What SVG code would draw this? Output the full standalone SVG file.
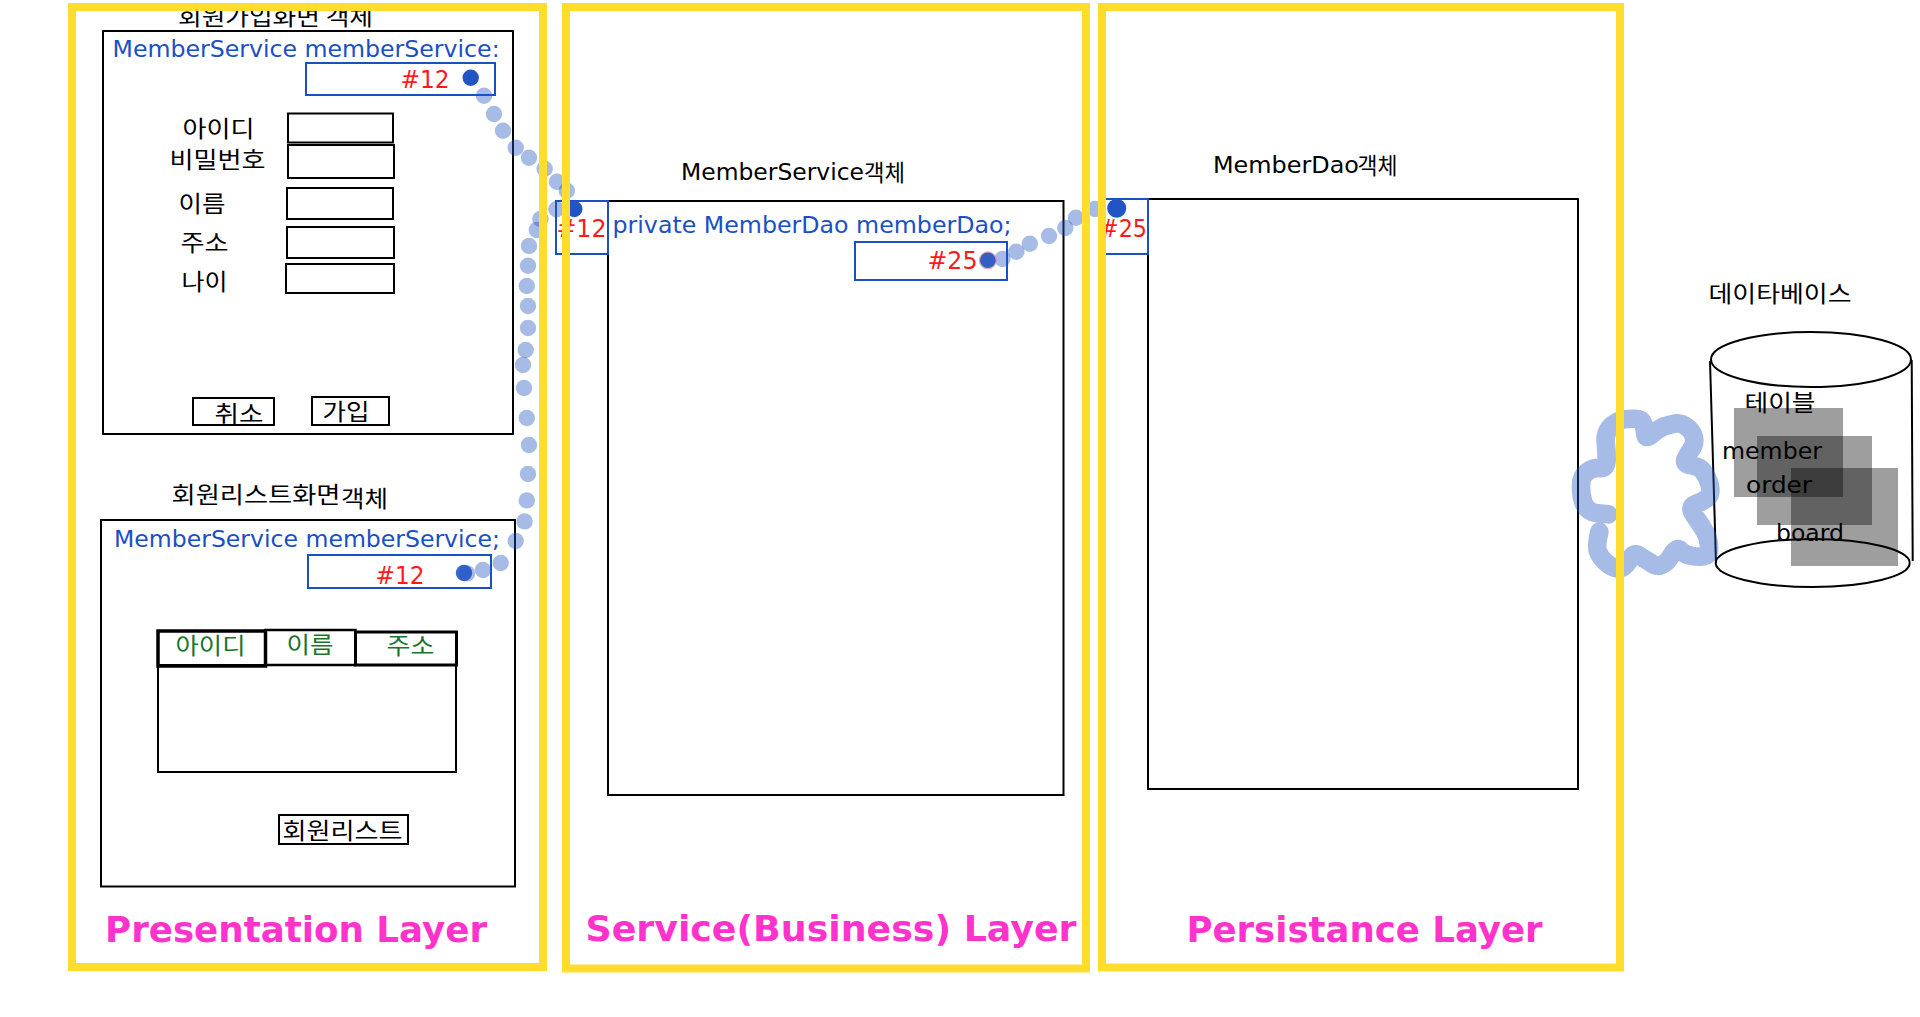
<svg xmlns="http://www.w3.org/2000/svg" width="1920" height="1017" viewBox="0 0 1920 1017">
<style>
text{font-family:"DejaVu Sans","Noto Sans CJK KR",sans-serif;fill:#000;font-size:23px}
.k{font-family:"Noto Sans CJK KR",sans-serif}
.b{fill:#1a50c4}.r{fill:#ff1a1a;font-size:24px}.g{fill:#17762c}
.p{fill:#ff33cc;font-weight:bold;font-size:35px}
.box{fill:none;stroke:#000;stroke-width:2}
.blue{fill:none;stroke:#1a50c4;stroke-width:2}
.frame{fill:none;stroke:#ffdd2e;stroke-width:8}
.dot{fill:#2255c4;opacity:.4}
.hot{fill:#2255c4}
.sq{fill:#000;opacity:.38}
</style>
<rect width="1920" height="1017" fill="#fff"/>
<g id="signup-form">
<text class="k" x="178" y="25" textLength="195" lengthAdjust="spacingAndGlyphs">회원가입화면 객체</text>
<rect class="box" x="103" y="31" width="410" height="403"/>
<text class="b" x="112.6" y="56.7" textLength="387" lengthAdjust="spacingAndGlyphs">MemberService memberService:</text>
<rect class="blue" x="306" y="63" width="189" height="32"/>
<text class="r" x="400.5" y="87.7" textLength="49" lengthAdjust="spacingAndGlyphs">#12</text>
<text class="k" x="182.5" y="137" textLength="72" lengthAdjust="spacingAndGlyphs">아이디</text>
<text class="k" x="169.5" y="168" textLength="96" lengthAdjust="spacingAndGlyphs">비밀번호</text>
<text class="k" x="178.5" y="212" textLength="47" lengthAdjust="spacingAndGlyphs">이름</text>
<text class="k" x="180.5" y="251" textLength="48" lengthAdjust="spacingAndGlyphs">주소</text>
<text class="k" x="181.5" y="290" textLength="46" lengthAdjust="spacingAndGlyphs">나이</text>
<rect class="box" x="288" y="113.5" width="105" height="29"/>
<rect class="box" x="288" y="145" width="106" height="33"/>
<rect class="box" x="287" y="188" width="106" height="31"/>
<rect class="box" x="287" y="227" width="107" height="31"/>
<rect class="box" x="286" y="264" width="108" height="29"/>
<rect class="box" x="193" y="398" width="81" height="27"/>
<text class="k" x="214.5" y="422" textLength="49" lengthAdjust="spacingAndGlyphs">취소</text>
<rect class="box" x="312" y="397" width="77" height="28"/>
<text class="k" x="322.5" y="420" textLength="47" lengthAdjust="spacingAndGlyphs">가입</text>
</g>
<g id="list-view">
<text class="k" x="171.5" y="503" textLength="169" lengthAdjust="spacingAndGlyphs">회원리스트화면</text>
<text class="k" x="341" y="506.5" textLength="47" lengthAdjust="spacingAndGlyphs" font-size="21">객체</text>
<rect class="box" x="101" y="520" width="414" height="366.5"/>
<text class="b" x="114" y="546.5" textLength="386" lengthAdjust="spacingAndGlyphs">MemberService memberService;</text>
<rect class="blue" x="308" y="555" width="183" height="33"/>
<text class="r" x="375.5" y="584" textLength="49" lengthAdjust="spacingAndGlyphs">#12</text>
<rect class="box" x="158" y="665" width="298" height="107"/>
<rect x="265.5" y="630" width="90" height="35" fill="none" stroke="#000" stroke-width="2.5"/>
<rect x="355.5" y="632" width="101" height="33" fill="none" stroke="#000" stroke-width="3"/>
<rect x="158" y="631" width="107.5" height="35" fill="none" stroke="#000" stroke-width="3.5"/>
<text class="k g" x="175.5" y="654" textLength="70" lengthAdjust="spacingAndGlyphs">아이디</text>
<text class="k g" x="286.5" y="653" textLength="47" lengthAdjust="spacingAndGlyphs">이름</text>
<text class="k g" x="386.5" y="654" textLength="48" lengthAdjust="spacingAndGlyphs">주소</text>
<rect class="box" x="279" y="815" width="129" height="29"/>
<text class="k" x="282.5" y="839" textLength="120" lengthAdjust="spacingAndGlyphs">회원리스트</text>
</g>
<g id="service-object">
<text x="681" y="180" textLength="183" lengthAdjust="spacingAndGlyphs">MemberService</text>
<text class="k" x="864" y="180.5" textLength="41" lengthAdjust="spacingAndGlyphs" font-size="19">객체</text>
<rect class="box" x="608" y="201" width="455.5" height="594"/>
<rect class="blue" x="556" y="201" width="52" height="53"/>
<text class="r" x="556.5" y="237.3" textLength="50" lengthAdjust="spacingAndGlyphs">#12</text>
<text class="b" x="612.5" y="232.7" textLength="399" lengthAdjust="spacingAndGlyphs">private MemberDao memberDao;</text>
<rect class="blue" x="855" y="242" width="152" height="38"/>
<text class="r" x="927.5" y="269.3" textLength="50" lengthAdjust="spacingAndGlyphs">#25</text>
</g>
<g id="dao-object">
<text x="1213" y="173.3" textLength="146" lengthAdjust="spacingAndGlyphs">MemberDao</text>
<text class="k" x="1357.5" y="174" textLength="40" lengthAdjust="spacingAndGlyphs" font-size="19">객체</text>
<rect class="box" x="1148" y="199" width="430" height="590"/>
<rect class="blue" x="1100" y="199" width="48" height="55"/>
<text class="r" x="1100" y="236.7" textLength="47" lengthAdjust="spacingAndGlyphs">#25</text>
</g>
<g id="database">
<text class="k" x="1708.5" y="302" textLength="143" lengthAdjust="spacingAndGlyphs">데이타베이스</text>
<rect class="sq" x="1734" y="408" width="109" height="89"/>
<rect class="sq" x="1757" y="436" width="115" height="89"/>
<rect class="sq" x="1791" y="468" width="107" height="98"/>
<ellipse class="box" cx="1811" cy="359.5" rx="100" ry="27.5"/>
<path class="box" d="M1710 361L1716 563M1911.7 360L1912.7 561"/>
<ellipse class="box" cx="1812.7" cy="563" rx="97" ry="24"/>
<text class="k" x="1744.5" y="411" textLength="71" lengthAdjust="spacingAndGlyphs">테이블</text>
<text x="1722" y="459" textLength="100" lengthAdjust="spacingAndGlyphs">member</text>
<text x="1746" y="492.7" textLength="66" lengthAdjust="spacingAndGlyphs">order</text>
<text x="1776" y="540.7" textLength="68" lengthAdjust="spacingAndGlyphs">board</text>
</g>
<g id="connectors">
<path transform="translate(1560 270) scale(.3333)" fill="none" stroke="#2255c4" stroke-opacity=".4" stroke-width="56" stroke-linecap="round" stroke-linejoin="round" d="M118 785Q108 830 114 845Q120 860 135 875Q150 890 170 895Q190 899 205 875Q220 845 235 855Q250 865 270 877Q290 893 305 885Q320 880 335 855Q350 830 362 842Q375 855 397 858Q420 862 435 858Q450 855 447 827Q445 800 432 780Q420 760 402 735Q385 710 407 702Q430 695 444 682Q455 670 449 645Q442 620 430 605Q420 590 395 586Q370 583 377 566Q385 550 396 535Q405 520 402 502Q398 485 382 472Q365 458 347 460Q330 463 310 470Q290 480 274 494Q258 508 256 494Q255 480 252 470Q248 449 232 447Q215 445 192 448Q165 455 150 472Q135 490 137 515Q140 540 140 568Q140 597 120 594Q100 592 81 606Q62 620 63 650Q63 680 72 702Q84 727 112 730L145 733"/>
<g>
<circle class="dot" cx="484" cy="95.7" r="8.2"/><circle class="dot" cx="494" cy="114" r="8.2"/><circle class="dot" cx="503" cy="130.7" r="8.2"/><circle class="dot" cx="515.7" cy="147.7" r="8.2"/><circle class="dot" cx="529" cy="157.7" r="8.2"/><circle class="dot" cx="544.6" cy="168.7" r="8.2"/><circle class="dot" cx="557" cy="181.7" r="8.2"/><circle class="dot" cx="566.8" cy="190.7" r="8.2"/>
<circle class="dot" cx="556.4" cy="209.3" r="8.2"/><circle class="dot" cx="540.4" cy="219" r="8.2"/><circle class="dot" cx="536.8" cy="230" r="8.2"/><circle class="dot" cx="529" cy="246" r="8.2"/><circle class="dot" cx="528" cy="265.7" r="8.2"/><circle class="dot" cx="526.8" cy="286" r="8.2"/><circle class="dot" cx="528" cy="306" r="8.2"/><circle class="dot" cx="528" cy="328" r="8.2"/><circle class="dot" cx="525.7" cy="350" r="8.2"/><circle class="dot" cx="523" cy="365" r="8.2"/><circle class="dot" cx="524" cy="388" r="8.2"/><circle class="dot" cx="526.8" cy="418" r="8.2"/><circle class="dot" cx="529" cy="445" r="8.2"/><circle class="dot" cx="528" cy="474" r="8.2"/><circle class="dot" cx="526.8" cy="500.4" r="8.2"/><circle class="dot" cx="524.6" cy="521.4" r="8.2"/><circle class="dot" cx="515.7" cy="541" r="8.2"/><circle class="dot" cx="500.7" cy="563" r="8.2"/><circle class="dot" cx="482.9" cy="570" r="8.2"/><circle class="dot" cx="467" cy="573.4" r="8.2"/>
<circle class="dot" cx="1002.4" cy="259" r="8.2"/><circle class="dot" cx="1016.3" cy="251.7" r="8.2"/><circle class="dot" cx="1029.8" cy="243.7" r="8.2"/><circle class="dot" cx="1049" cy="236" r="8.2"/><circle class="dot" cx="1065.3" cy="228" r="8.2"/><circle class="dot" cx="1076" cy="217.7" r="8.2"/><circle class="dot" cx="1095" cy="209" r="8.2"/>
<circle class="hot" cx="470.7" cy="77.7" r="8.2"/><circle class="hot" cx="574.3" cy="209" r="8.2"/><circle class="hot" cx="464" cy="573" r="8.2" opacity=".9"/><circle cx="987.8" cy="260.3" r="9" fill="#d08a9a" opacity=".7"/><circle class="hot" cx="987.8" cy="260.3" r="7.8" opacity=".9"/><circle class="hot" cx="1116.7" cy="208.3" r="9.5"/>
</g>
</g>
<g id="layer-presentation">
<rect class="frame" x="72" y="7" width="471" height="960"/>
<text class="p" x="105" y="941.5" textLength="382" lengthAdjust="spacingAndGlyphs">Presentation Layer</text>
</g>
<g id="layer-service">
<rect class="frame" x="566" y="7" width="520" height="961.5"/>
<text class="p" x="585.5" y="941" textLength="491" lengthAdjust="spacingAndGlyphs">Service(Business) Layer</text>
</g>
<g id="layer-persistence">
<rect class="frame" x="1102" y="7" width="518" height="960.5"/>
<text class="p" x="1186.5" y="942" textLength="356" lengthAdjust="spacingAndGlyphs">Persistance Layer</text>
</g>
</svg>
